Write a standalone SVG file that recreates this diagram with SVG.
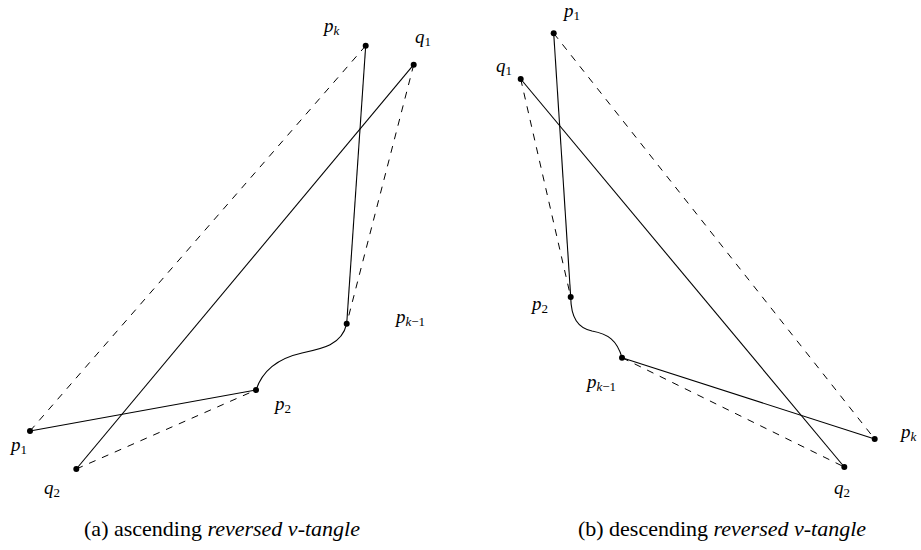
<svg xmlns="http://www.w3.org/2000/svg" width="921" height="550" viewBox="0 0 921 550">
<style>
.s{fill:none;stroke:#000;stroke-width:1.1}
.d{fill:none;stroke:#000;stroke-width:1;stroke-dasharray:7 7}
.pt{fill:#000}
.m{font-family:"Liberation Serif",serif;font-style:italic;font-size:19px;fill:#000}
.sub{font-size:13px;font-style:normal}
.subi{font-size:13px;font-style:italic}
.cap{font-family:"Liberation Serif",serif;font-size:22px;fill:#000;text-anchor:middle}
.it{font-style:italic}
</style>
<rect width="921" height="550" fill="#fff"/>
<g id="connectors">
<line class="d" x1="30" y1="431" x2="365.7" y2="45.7"/>
<line class="d" x1="413.7" y1="64.7" x2="346.7" y2="323.7"/>
<line class="d" x1="76.3" y1="469" x2="256" y2="390"/>
<line class="s" x1="30" y1="431" x2="256" y2="390"/>
<line class="s" x1="76.3" y1="469" x2="413.7" y2="64.7"/>
<line class="s" x1="365.7" y1="45.7" x2="346.7" y2="323.7"/>
<path class="s" d="M256,390 C264,366 284,357 302,353 C322,349 342,345 346.7,323.7"/>
<line class="d" x1="553.7" y1="33.3" x2="874.7" y2="439"/>
<line class="d" x1="520.7" y1="79" x2="570.7" y2="297"/>
<line class="d" x1="622" y1="357.7" x2="844.3" y2="467"/>
<line class="s" x1="553.7" y1="33.3" x2="570.7" y2="297"/>
<line class="s" x1="520.7" y1="79" x2="844.3" y2="467"/>
<line class="s" x1="622" y1="357.7" x2="874.7" y2="439"/>
<path class="s" d="M570.7,297 C571,318 578,328 592,331 C608,334 617,340 622,357.7"/>
</g>
<g id="a-p1"><circle class="pt" cx="30" cy="431" r="3"/><text class="m" x="11" y="451">p<tspan class="sub" dy="3">1</tspan></text></g>
<g id="a-q2"><circle class="pt" cx="76.3" cy="469" r="3"/><text class="m" x="44" y="494">q<tspan class="sub" dy="3">2</tspan></text></g>
<g id="a-p2"><circle class="pt" cx="256" cy="390" r="3"/><text class="m" x="275" y="410">p<tspan class="sub" dy="3">2</tspan></text></g>
<g id="a-pk1"><circle class="pt" cx="346.7" cy="323.7" r="3"/><text class="m" x="396" y="323">p<tspan class="subi" dy="3">k</tspan><tspan class="sub">−1</tspan></text></g>
<g id="a-pk"><circle class="pt" cx="365.7" cy="45.7" r="3"/><text class="m" x="324" y="32">p<tspan class="subi" dy="3">k</tspan></text></g>
<g id="a-q1"><circle class="pt" cx="413.7" cy="64.7" r="3"/><text class="m" x="415" y="43">q<tspan class="sub" dy="3">1</tspan></text></g>
<g id="b-p1"><circle class="pt" cx="553.7" cy="33.3" r="3"/><text class="m" x="564" y="17">p<tspan class="sub" dy="3">1</tspan></text></g>
<g id="b-q1"><circle class="pt" cx="520.7" cy="79" r="3"/><text class="m" x="496" y="72">q<tspan class="sub" dy="3">1</tspan></text></g>
<g id="b-p2"><circle class="pt" cx="570.7" cy="297" r="3"/><text class="m" x="532" y="310">p<tspan class="sub" dy="3">2</tspan></text></g>
<g id="b-pk1"><circle class="pt" cx="622" cy="357.7" r="3"/><text class="m" x="587" y="388">p<tspan class="subi" dy="3">k</tspan><tspan class="sub">−1</tspan></text></g>
<g id="b-pk"><circle class="pt" cx="874.7" cy="439" r="3"/><text class="m" x="901" y="438">p<tspan class="subi" dy="3">k</tspan></text></g>
<g id="b-q2"><circle class="pt" cx="844.3" cy="467" r="3"/><text class="m" x="834" y="494">q<tspan class="sub" dy="3">2</tspan></text></g>
<g id="caption-a"><text class="cap" x="222" y="536">(a) ascending <tspan class="it">reversed v-tangle</tspan></text></g>
<g id="caption-b"><text class="cap" x="722" y="536">(b) descending <tspan class="it">reversed v-tangle</tspan></text></g>
</svg>
